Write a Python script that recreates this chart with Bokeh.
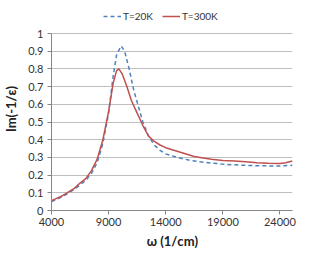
from bokeh.plotting import figure
from bokeh.models import Legend, LegendItem, FixedTicker, CustomJSTickFormatter, Range1d
from bokeh.embed import file_html
from bokeh.resources import INLINE

# T=20K (dashed blue)
x20 = [4000, 5000, 6000, 7000, 7500, 8000, 8500, 9000, 9400, 9700, 10100, 10400, 10800,
       11200, 11600, 12000, 12500, 13000, 13500, 14000, 14500, 15000, 16000, 17000,
       18000, 19000, 20000, 21000, 22000, 23000, 24000, 25100]
y20 = [0.05, 0.08, 0.12, 0.17, 0.21, 0.27, 0.38, 0.55, 0.76, 0.88, 0.93, 0.90, 0.80,
       0.68, 0.59, 0.50, 0.42, 0.37, 0.34, 0.32, 0.31, 0.30, 0.285, 0.275,
       0.268, 0.262, 0.258, 0.255, 0.253, 0.252, 0.252, 0.255]

# T=300K (solid red)
x300 = [4000, 4500, 5000, 5500, 6000, 6500, 7000, 7500, 8000, 8500, 9000, 9400, 9700,
        9900, 10200, 10600, 11000, 11500, 12000, 12500, 13000, 13500, 14000, 14500,
        15000, 15500, 16000, 16500, 17000, 18000, 19000, 20000, 21000, 22000, 23000,
        24000, 24500, 25100]
y300 = [0.055, 0.07, 0.085, 0.105, 0.125, 0.155, 0.18, 0.225, 0.29, 0.40, 0.56, 0.72, 0.79,
        0.80, 0.77, 0.70, 0.62, 0.55, 0.48, 0.42, 0.39, 0.37, 0.355, 0.345,
        0.335, 0.325, 0.315, 0.305, 0.30, 0.29, 0.283, 0.28, 0.275, 0.27, 0.267,
        0.266, 0.27, 0.28]

x_ticks = [4000, 9000, 14000, 19000, 24000]
y_ticks = [0, 0.1, 0.2, 0.3, 0.4, 0.5, 0.6, 0.7, 0.8, 0.9, 1]

FONT = "Lato"
TXT = "#333333"

PX_PER_UNIT = 177
HEADROOM = 26  # px above the y=1 line reserved for the legend

p = figure(frame_width=241, frame_height=PX_PER_UNIT + HEADROOM,
           output_backend="svg", toolbar_location=None,
           x_range=Range1d(4000, 25100), y_range=Range1d(0, 1 + HEADROOM / PX_PER_UNIT),
           min_border_left=46, min_border_right=12, min_border_top=7, min_border_bottom=36)
p.outline_line_color = None
p.background_fill_color = "white"
p.border_fill_color = "white"

p.xgrid.visible = False
p.ygrid.grid_line_color = "#BFBFBF"
p.ygrid.grid_line_width = 1
p.ygrid.ticker = FixedTicker(ticks=y_ticks)

r20 = p.line(x20, y20, line_color="#4F81BD", line_width=1.5, line_dash="4 3")
r300 = p.line(x300, y300, line_color="#C0504D", line_width=1.5)

for ax in (p.xaxis[0], p.yaxis[0]):
    ax.axis_line_color = "#868686"
    ax.major_tick_line_color = "#868686"
    ax.major_tick_out = 4
    ax.major_tick_in = 0
    ax.minor_tick_line_color = None
    ax.major_label_text_font = FONT
    ax.major_label_text_font_size = "11px"
    ax.major_label_text_color = TXT
    ax.axis_label_text_font = FONT
    ax.axis_label_text_font_size = "13px"
    ax.axis_label_text_font_style = "bold"
    ax.axis_label_text_color = "#222222"

p.xaxis.ticker = FixedTicker(ticks=x_ticks)
p.yaxis.ticker = FixedTicker(ticks=y_ticks)
p.yaxis.bounds = (0, 1)
p.yaxis.formatter = CustomJSTickFormatter(code="return String(Math.round(tick*10)/10);")
p.xaxis.axis_label = "ω (1/cm)"
p.yaxis.axis_label = "Im(-1/ε)"
p.xaxis.major_label_standoff = 3
p.yaxis.major_label_standoff = 4
p.xaxis.axis_label_standoff = 4
p.yaxis.axis_label_standoff = 6

legend = Legend(items=[LegendItem(label="T=20K", renderers=[r20]),
                       LegendItem(label="T=300K", renderers=[r300])],
                orientation="horizontal", location=(52, 188))
legend.label_text_font = FONT
legend.label_text_font_size = "10px"
legend.label_text_color = TXT
legend.border_line_color = None
legend.background_fill_alpha = 0
legend.glyph_width = 18
legend.glyph_height = 10
legend.label_standoff = 2
legend.label_height = 12
legend.spacing = 9
legend.padding = 2
legend.margin = 0
p.add_layout(legend)

open("out.html", "w").write(file_html(p, INLINE))
